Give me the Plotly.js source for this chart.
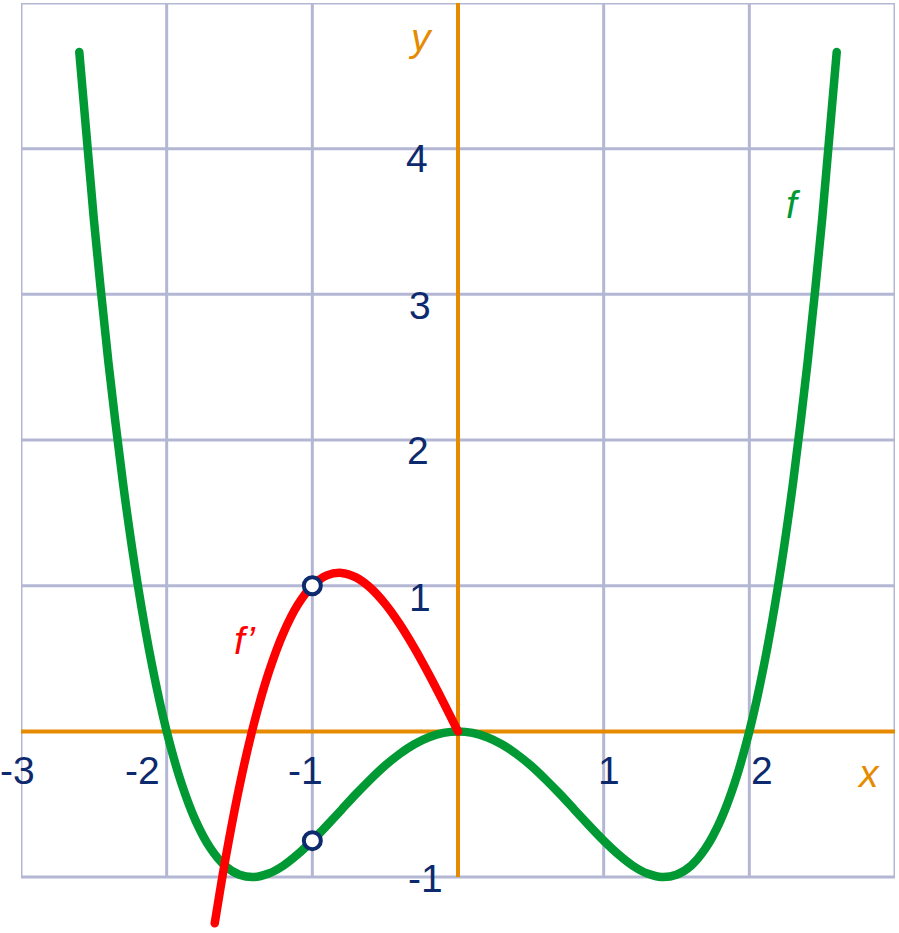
<!DOCTYPE html>
<html>
<head>
<meta charset="utf-8">
<script src="https://cdn.plot.ly/plotly-3.0.1.min.js"></script>
<style>html,body{margin:0;padding:0;background:#fff;}#chart{width:899px;height:933px;}
#chart .scatterlayer .js-line{stroke-linecap:round;stroke-linejoin:round;}</style>
</head>
<body>
<div id="chart"></div>
<script>
// Curve f (green)
var fX = [-2.6,-2.5,-2.4,-2.3,-2.2,-2.1,-2.0,-1.9,-1.8,-1.7,-1.6,-1.5,-1.4,-1.3,-1.2,-1.1,-1.0,-0.9,-0.8,-0.7,-0.6,-0.5,-0.4,-0.3,-0.2,-0.1,0,
          0.1,0.2,0.3,0.4,0.5,0.6,0.7,0.8,0.9,1.0,1.1,1.2,1.3,1.4,1.5,1.6,1.7,1.8,1.9,2.0,2.1,2.2,2.3,2.4,2.5,2.6];
var fY = [4.664,3.516,2.534,1.706,1.016,0.452,0,-0.352,-0.616,-0.802,-0.922,-0.984,-1.0,-0.976,-0.922,-0.844,-0.75,-0.646,-0.538,-0.430,-0.328,-0.234,-0.154,-0.088,-0.040,-0.010,0,
          -0.010,-0.040,-0.088,-0.154,-0.234,-0.328,-0.430,-0.538,-0.646,-0.75,-0.844,-0.922,-0.976,-1.0,-0.984,-0.922,-0.802,-0.616,-0.352,0,0.452,1.016,1.706,2.534,3.516,4.664];
// Curve f' (red)
var dX = [-1.67,-1.6,-1.5,-1.4,-1.3,-1.2,-1.1,-1.0,-0.9,-0.8,-0.7,-0.6,-0.5,-0.4,-0.3,-0.2,-0.1,0];
var dY = [-1.317,-0.896,-0.375,0.056,0.403,0.672,0.869,1.0,1.071,1.088,1.057,0.984,0.875,0.736,0.573,0.392,0.199,0];
// Marked points
var ptX = [-1,-1];
var ptY = [1,-0.75];
// Grid and tick labels
var gridX = [-3,-2,-1,0,1,2,3];
var gridY = [-1,0,1,2,3,4,5];
var xTickVals = [-3,-2,-1,1,2];
var xTickText = ['-3','-2','-1','1','2'];
var yTickVals = [4,3,2,1,-1];
var yTickText = ['4','3','2','1','-1'];

var GRID = '#b3b7d4', AX = '#e68a00', NAVY = '#0d2a6e';
var xMin = -3, xMax = 3, yMin = -1, yMax = 5;

var shapes = [];
gridX.forEach(function(v){
  shapes.push({type:'line',layer:'below',xref:'x',yref:'y',x0:v,x1:v,y0:yMin,y1:yMax,line:{color:GRID,width:3}});
});
gridY.forEach(function(v){
  shapes.push({type:'line',layer:'below',xref:'x',yref:'y',x0:xMin,x1:xMax,y0:v,y1:v,line:{color:GRID,width:3}});
});
shapes.push({type:'line',layer:'below',xref:'x',yref:'y',x0:xMin,x1:xMax,y0:0,y1:0,line:{color:AX,width:4}});
shapes.push({type:'line',layer:'below',xref:'x',yref:'y',x0:0,x1:0,y0:yMin,y1:yMax,line:{color:AX,width:4}});

var xShifts = [-4,-24,-7,5,13];
var yShiftsY = [-10,-11,-10,-12,-1];
var xShiftsY = [-41,-38,-40,-38,-33];
var annotations = [];
var lblFont = {family:'Liberation Sans, Arial, sans-serif', size:39, color:NAVY};
xTickVals.forEach(function(v,i){
  annotations.push({xref:'x',yref:'y',x:v,y:0,text:xTickText[i],showarrow:false,xanchor:'center',yanchor:'middle',xshift:xShifts[i],yshift:-39,font:lblFont});
});
yTickVals.forEach(function(v,i){
  annotations.push({xref:'x',yref:'y',x:0,y:v,text:yTickText[i],showarrow:false,xanchor:'center',yanchor:'middle',xshift:xShiftsY[i],yshift:yShiftsY[i],font:lblFont});
});
var itFont = function(c){return {family:'Liberation Sans, Arial, sans-serif', size:39, color:c, style:'italic'};};
annotations.push({xref:'paper',yref:'paper',x:(868-21)/874,y:1-(773-3)/930,text:'<i>x</i>',showarrow:false,xanchor:'center',yanchor:'middle',font:itFont(AX)});
annotations.push({xref:'paper',yref:'paper',x:(420-21)/874,y:1-(38-3)/930,text:'<i>y</i>',showarrow:false,xanchor:'center',yanchor:'middle',font:itFont(AX)});
annotations.push({xref:'paper',yref:'paper',x:(793-21)/874,y:1-(205-3)/930,text:'<i>f</i>',showarrow:false,xanchor:'center',yanchor:'middle',font:itFont('#009933')});
annotations.push({xref:'paper',yref:'paper',x:(245-21)/874,y:1-(640-3)/930,text:'<i>f’</i>',showarrow:false,xanchor:'center',yanchor:'middle',font:itFont('#ff0000')});

var traces = [
  {x:fX,y:fY,type:'scatter',mode:'lines',line:{color:'#009933',width:8.5,shape:'spline',smoothing:0.8},hoverinfo:'skip'},
  {x:dX,y:dY,type:'scatter',mode:'lines',line:{color:'#ff0000',width:8.5,shape:'spline',smoothing:0.8},hoverinfo:'skip'},
  {x:ptX,y:ptY,type:'scatter',mode:'markers',marker:{size:17,color:'#ffffff',line:{color:NAVY,width:4}},cliponaxis:false,hoverinfo:'skip'}
];

var layout = {
  width:899,height:933,
  margin:{l:21,r:4,t:3,b:0},
  paper_bgcolor:'#ffffff',plot_bgcolor:'#ffffff',
  showlegend:false,
  xaxis:{range:[-3,3],showgrid:false,zeroline:false,showticklabels:false,showline:false,ticks:'',fixedrange:true},
  yaxis:{range:[-1.384,5],showgrid:false,zeroline:false,showticklabels:false,showline:false,ticks:'',fixedrange:true},
  shapes:shapes,
  annotations:annotations
};
Plotly.newPlot('chart',traces,layout,{displayModeBar:false,staticPlot:true});
</script>
</body>
</html>
